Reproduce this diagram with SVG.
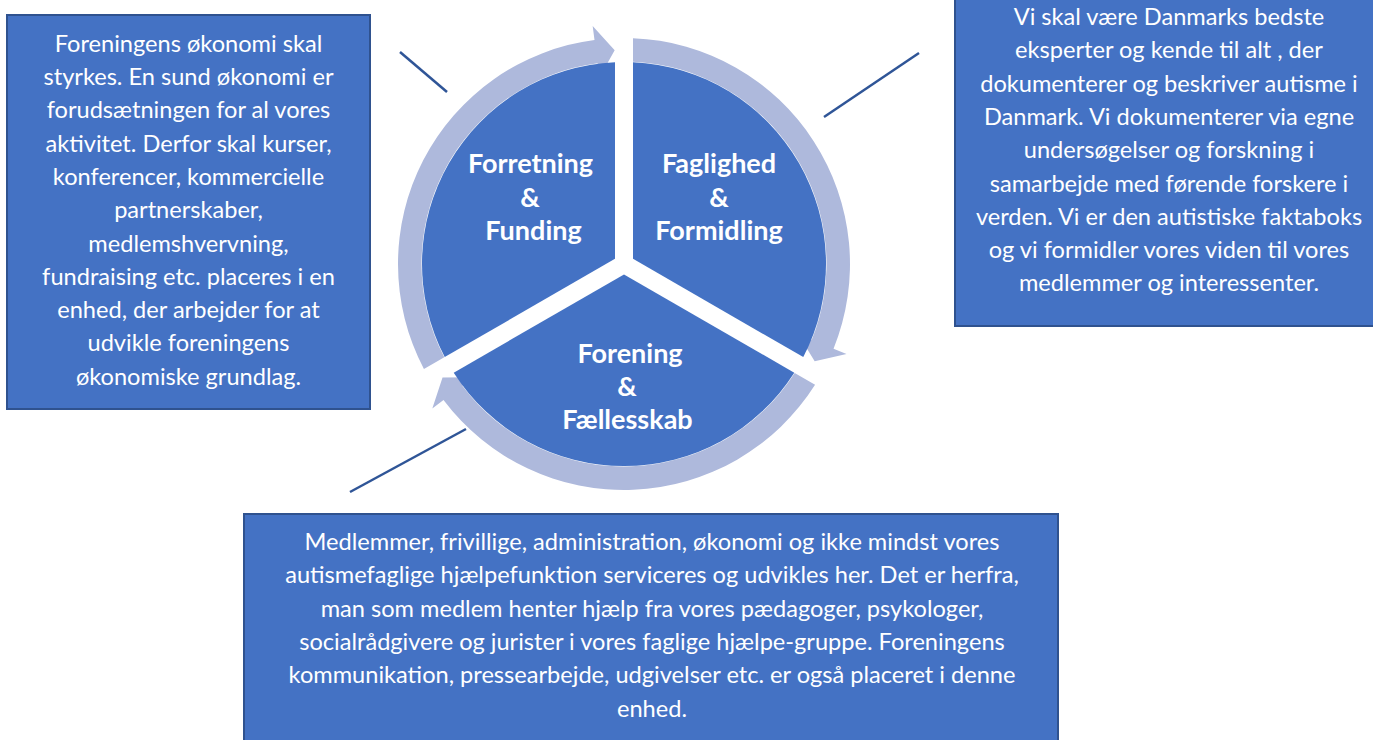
<svg xmlns="http://www.w3.org/2000/svg" width="1373" height="740" viewBox="0 0 1373 740">
<style>
.bg{fill:#FFFFFF}
.seg{fill:#4472C4}
.ring{fill:#AEB9DC}
.box{fill:#4472C4;stroke:#2F528F;stroke-width:2}
.txt{font-family:Lato,"Liberation Sans",sans-serif;font-size:23.6px;fill:#FFFFFF;text-anchor:middle}
.lbl{font-family:Lato,"Liberation Sans",sans-serif;font-size:27px;font-weight:bold;fill:#FFFFFF;text-anchor:middle}
.lead{stroke:#2F5597;stroke-width:2.5;fill:none;stroke-linecap:butt}
</style>
<rect class="bg" x="0" y="0" width="1373" height="740"/>

<g id="cycle-arrows">
<path class="ring" d="M423.94,369.11 A226,226 0 0 1 594.50,39.93 L592.67,26.05 L614.67,50.20 L599.46,77.61 L597.57,63.23 A202.5,202.5 0 0 0 444.30,357.35 Z"/>
<path class="ring" d="M632.99,38.18 A226,226 0 0 1 833.54,348.66 L846.52,353.91 L814.68,361.15 L798.31,334.43 L811.75,339.86 A202.5,202.5 0 0 0 633.01,61.70 Z"/>
<path class="ring" d="M815.07,384.70 A226,226 0 0 1 443.51,400.01 L432.33,408.44 L442.52,377.40 L473.86,377.14 L462.28,385.87 A202.5,202.5 0 0 0 794.70,372.94 Z"/>
</g>

<g id="node-forretning">
<path class="seg" d="M615,258.8 L444.73,357.1 A202,202 0 0 1 615,62.2 Z"/>
<text class="lbl" x="530.5" y="173.3">Forretning</text>
<text class="lbl" x="530" y="206.5">&amp;</text>
<text class="lbl" x="533.5" y="239.5">Funding</text>
</g>

<g id="node-faglighed">
<path class="seg" d="M633,258.8 L633,62.2 A202,202 0 0 1 803.27,357.1 Z"/>
<text class="lbl" x="719" y="173.3">Faglighed</text>
<text class="lbl" x="719" y="206.5">&amp;</text>
<text class="lbl" x="719" y="239.5">Formidling</text>
</g>

<g id="node-forening">
<path class="seg" d="M624,274.4 L794.27,372.7 A202,202 0 0 1 453.73,372.7 Z"/>
<text class="lbl" x="630" y="362.5">Forening</text>
<text class="lbl" x="627" y="395.5">&amp;</text>
<text class="lbl" x="627.5" y="428.5">Fællesskab</text>
</g>

<g id="connectors">
<line class="lead" x1="400" y1="52" x2="447" y2="92"/>
<line class="lead" x1="824" y1="117" x2="919" y2="53"/>
<line class="lead" x1="350" y1="492" x2="466" y2="429"/>
</g>

<g id="box-left">
<rect class="box" x="7" y="15" width="363" height="394"/>
<text class="txt" x="188.5" y="51.7">Foreningens økonomi skal</text>
<text class="txt" x="188.5" y="85">styrkes. En sund økonomi er</text>
<text class="txt" x="188.5" y="118.3">forudsætningen for al vores</text>
<text class="txt" x="188.5" y="151.6">aktivitet. Derfor skal kurser,</text>
<text class="txt" x="188.5" y="184.9">konferencer, kommercielle</text>
<text class="txt" x="188.5" y="218.2">partnerskaber,</text>
<text class="txt" x="188.5" y="251.5">medlemshvervning,</text>
<text class="txt" x="188.5" y="284.8">fundraising etc. placeres i en</text>
<text class="txt" x="188.5" y="318.1">enhed, der arbejder for at</text>
<text class="txt" x="188.5" y="351.4">udvikle foreningens</text>
<text class="txt" x="188.5" y="384.7">økonomiske grundlag.</text>
</g>

<g id="box-right">
<rect class="box" x="955" y="-10" width="440" height="336"/>
<text class="txt" x="1169" y="25">Vi skal være Danmarks bedste</text>
<text class="txt" x="1169" y="58.3">eksperter og kende til alt , der</text>
<text class="txt" x="1169" y="91.6">dokumenterer og beskriver autisme i</text>
<text class="txt" x="1169" y="124.9">Danmark. Vi dokumenterer via egne</text>
<text class="txt" x="1169" y="158.2">undersøgelser og forskning i</text>
<text class="txt" x="1169" y="191.5">samarbejde med førende forskere i</text>
<text class="txt" x="1169" y="224.8">verden. Vi er den autistiske faktaboks</text>
<text class="txt" x="1169" y="258.1">og vi formidler vores viden til vores</text>
<text class="txt" x="1169" y="291.4">medlemmer og interessenter.</text>
</g>

<g id="box-bottom">
<rect class="box" x="244" y="514" width="814" height="240"/>
<text class="txt" x="652" y="550">Medlemmer, frivillige, administration, økonomi og ikke mindst vores</text>
<text class="txt" x="652" y="583.3">autismefaglige hjælpefunktion serviceres og udvikles her. Det er herfra,</text>
<text class="txt" x="652" y="616.6">man som medlem henter hjælp fra vores pædagoger, psykologer,</text>
<text class="txt" x="652" y="649.9">socialrådgivere og jurister i vores faglige hjælpe-gruppe. Foreningens</text>
<text class="txt" x="652" y="683.2">kommunikation, pressearbejde, udgivelser etc. er også placeret i denne</text>
<text class="txt" x="652" y="716.5">enhed.</text>
</g>
</svg>
